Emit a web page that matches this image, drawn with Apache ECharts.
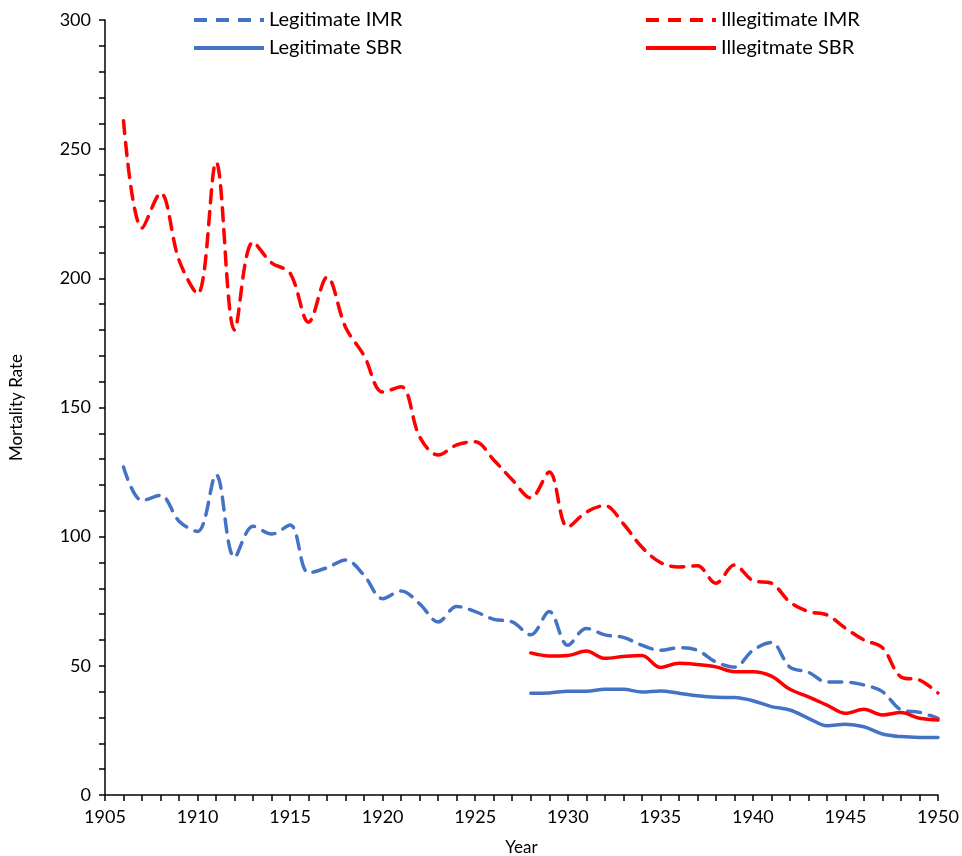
<!DOCTYPE html>
<html>
<head>
<meta charset="utf-8">
<script src="https://cdn.jsdelivr.net/npm/echarts@6/dist/echarts.min.js"></script>
<style>
  html, body { margin: 0; padding: 0; background: #fff; }
  #chart { width: 962px; height: 856px; }
</style>
</head>
<body>
<div id="chart"></div>
<script>
// Years covered by the infant mortality series and by the stillbirth series
const imrYears = [1906,1907,1908,1909,1910,1911,1912,1913,1914,1915,1916,1917,1918,1919,1920,1921,1922,1923,1924,1925,1926,1927,1928,1929,1930,1931,1932,1933,1934,1935,1936,1937,1938,1939,1940,1941,1942,1943,1944,1945,1946,1947,1948,1949,1950];
const sbrYears = [1928,1929,1930,1931,1932,1933,1934,1935,1936,1937,1938,1939,1940,1941,1942,1943,1944,1945,1946,1947,1948,1949,1950];

const legitimateIMR = [127,114,116,106,102,124,92,104,101,104.5,86,88,91,85,76,79,74,67,73,71,68,67,62,71,58,64.5,62,61,58,56,57,56,51.5,49.5,56,59,49.5,47.5,43.7,43.7,42.6,40,33,32,29.7];
const illegitimateIMR = [261,219.5,233,207,194,245,180,214,206,202,183,200.5,181,170,156,158,138.6,131.6,135.5,136.7,129.7,122,115,125,103.7,109.5,112,105,96,90,88.3,88.7,82,89,83,82,74.7,71,69.7,64.6,60,57,45.7,44.5,39.5];
const legitimateSBR = [39.4,39.5,40.2,40.2,40.9,40.9,39.9,40.3,39.4,38.4,37.8,37.7,36.5,34.2,32.9,29.7,26.8,27.4,26.4,23.6,22.6,22.3,22.3];
const illegitimateSBR = [55,53.8,54,55.7,52.9,53.6,54,49.4,51,50.5,49.6,47.7,47.7,46,40.9,38,34.8,31.6,33.2,31,31.9,29.7,29];

const BLUE = '#4472c4';
const RED = '#ff0000';
const FONT = 'Lato';

function pairs(xs, ys) { return xs.map((x, i) => [x, ys[i]]); }

function lineSeries(name, xs, ys, color, dashed) {
  return {
    name: name,
    type: 'line',
    data: pairs(xs, ys),
    smooth: 0.35,
    symbol: 'none',
    lineStyle: { color: color, width: 3.5, type: dashed ? [13, 9] : 'solid', cap: 'round' },
    itemStyle: { color: color }
  };
}

const chart = echarts.init(document.getElementById('chart'), null, { renderer: 'canvas' });

// Legend: line sample only, no marker dot
const legendCommon = {
  orient: 'vertical',
  top: 5,
  itemWidth: 70,
  itemHeight: 14,
  itemGap: 8,
  itemStyle: { opacity: 0, borderWidth: 0 },
  lineStyle: { width: 4, cap: 'butt' },
  textStyle: { fontFamily: FONT, fontSize: 20, color: '#000', padding: [0, 0, 0, 0] }
};

const tickLine = { color: '#000', width: 1.5 };

// Major axes carry labels; the companion axes only draw the yearly / 10-unit ticks
chart.setOption({
  animation: false,
  backgroundColor: '#fff',
  textStyle: { fontFamily: FONT },
  grid: { left: 105, right: 24, top: 20, bottom: 61, containLabel: false, outerBoundsMode: 'none' },
  legend: [
    Object.assign({}, legendCommon, { left: 187, data: ['Legitimate IMR', 'Legitimate SBR'] }),
    Object.assign({}, legendCommon, { left: 639, data: ['Illegitimate IMR', 'Illegitmate SBR'] })
  ],
  xAxis: [{
    type: 'value',
    min: 1905,
    max: 1950,
    interval: 5,
    name: 'Year',
    nameLocation: 'middle',
    nameGap: 44,
    nameTextStyle: { fontFamily: FONT, fontSize: 17, color: '#000' },
    axisLine: { show: true, onZero: false, lineStyle: { color: '#000', width: 1.5 } },
    axisTick: { show: true, inside: false, length: 6, lineStyle: tickLine },
    splitLine: { show: false },
    axisLabel: { fontFamily: FONT, fontSize: 18, color: '#000', margin: 13, formatter: v => String(v) }
  }, {
    type: 'value',
    position: 'bottom',
    min: 1905,
    max: 1950,
    interval: 1,
    axisLine: { show: false, onZero: false },
    axisTick: { show: true, inside: false, length: 6, lineStyle: tickLine },
    axisLabel: { show: false },
    splitLine: { show: false }
  }],
  yAxis: [{
    type: 'value',
    min: 0,
    max: 300,
    interval: 50,
    name: 'Mortality Rate',
    nameLocation: 'middle',
    nameGap: 80,
    nameRotate: 90,
    nameTextStyle: { fontFamily: FONT, fontSize: 17, color: '#000' },
    axisLine: { show: true, lineStyle: { color: '#000', width: 1.5 } },
    axisTick: { show: true, inside: false, length: 6, lineStyle: tickLine },
    splitLine: { show: false },
    axisLabel: { fontFamily: FONT, fontSize: 18, color: '#000', margin: 14 }
  }, {
    type: 'value',
    position: 'left',
    min: 0,
    max: 300,
    interval: 10,
    axisLine: { show: false },
    axisTick: { show: true, inside: false, length: 6, lineStyle: tickLine },
    axisLabel: { show: false },
    splitLine: { show: false }
  }],
  series: [
    lineSeries('Legitimate IMR', imrYears, legitimateIMR, BLUE, true),
    lineSeries('Illegitimate IMR', imrYears, illegitimateIMR, RED, true),
    lineSeries('Legitimate SBR', sbrYears, legitimateSBR, BLUE, false),
    lineSeries('Illegitmate SBR', sbrYears, illegitimateSBR, RED, false)
  ]
});
</script>
</body>
</html>
